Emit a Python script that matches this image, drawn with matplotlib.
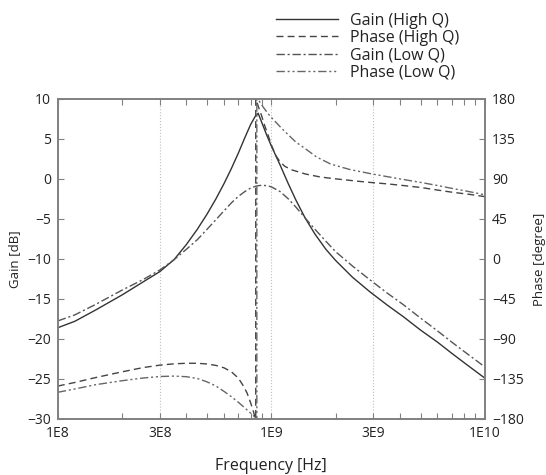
import numpy as np
import matplotlib.pyplot as plt
from matplotlib.ticker import FixedLocator, NullFormatter

plt.rcParams['font.family'] = ['Open Sans', 'DejaVu Sans']

# Gain (High Q)
f_gain_hq = [1.0e8, 1.2e8, 1.5e8, 2.0e8, 2.5e8, 3.0e8, 3.5e8, 4.0e8, 4.5e8,
             5.0e8, 5.5e8, 6.0e8, 6.5e8, 7.0e8, 7.5e8, 8.0e8, 8.4e8, 8.67e8,
             9.0e8, 9.5e8, 1.0e9, 1.1e9, 1.2e9, 1.3e9, 1.44e9, 1.6e9, 1.8e9,
             2.0e9, 2.4e9, 2.89e9, 3.5e9, 4.14e9, 5.0e9, 6.0e9, 7.0e9, 8.5e9,
             1.0e10]
gain_hq = [-18.6, -17.8, -16.4, -14.5, -12.9, -11.6, -10.1, -8.2, -6.3,
           -4.4, -2.5, -0.6, 1.3, 3.2, 5.1, 6.8, 7.8, 8.2,
           7.1, 5.5, 4.1, 1.7, -0.6, -2.6, -4.9, -6.9, -8.8,
           -10.2, -12.3, -14.1, -15.8, -17.2, -18.9, -20.4, -21.8, -23.5,
           -24.9]

# Gain (Low Q)
f_gain_lq = [1.0e8, 1.2e8, 1.5e8, 2.0e8, 2.5e8, 3.0e8, 3.5e8, 4.0e8, 4.5e8,
             5.0e8, 5.5e8, 6.0e8, 6.5e8, 7.0e8, 7.5e8, 8.0e8, 8.5e8, 9.0e8,
             9.5e8, 1.0e9, 1.1e9, 1.2e9, 1.3e9, 1.44e9, 1.6e9, 1.8e9, 2.0e9,
             2.4e9, 2.89e9, 3.5e9, 4.14e9, 5.0e9, 6.0e9, 7.0e9, 8.5e9, 1.0e10]
gain_lq = [-17.75, -17.0, -15.7, -13.9, -12.6, -11.4, -10.1, -8.8, -7.6,
           -6.3, -5.1, -4.0, -3.0, -2.2, -1.6, -1.15, -0.9, -0.8,
           -0.85, -1.0, -1.6, -2.5, -3.5, -4.9, -6.3, -7.8, -9.1,
           -10.9, -12.6, -14.3, -15.7, -17.4, -19.0, -20.4, -22.1, -23.5]

# Phase (High Q)
f_phase_hq = [1.0e8, 1.2e8, 1.5e8, 2.0e8, 2.5e8, 3.0e8, 3.5e8, 4.0e8, 4.5e8,
              5.0e8, 5.5e8, 6.0e8, 6.5e8, 7.0e8, 7.4e8, 7.7e8, 8.0e8, 8.2e8,
              8.4e8, 8.45e8, 8.45e8, 8.7e8, 9.0e8, 9.3e8, 9.66e8, 1.0e9,
              1.05e9, 1.1e9, 1.157e9, 1.25e9, 1.44e9, 1.7e9, 2.0e9, 2.5e9,
              2.89e9, 3.5e9, 4.14e9, 5.0e9, 6.0e9, 7.0e9, 8.5e9, 1.0e10]
phase_hq = [-143, -139, -133.5, -127, -122.3, -119.5, -118, -117.4, -117.4,
            -118.2, -119.8, -122.5, -127, -134, -143, -151, -162, -170,
            -178.5, -180, 180, 171, 161, 150, 139, 128,
            116, 109, 104, 100, 95.5, 92, 90, 87.5,
            86, 84.3, 82.5, 80.3, 77.4, 75, 72.5, 70]

# Phase (Low Q)
f_phase_lq = [1.0e8, 1.2e8, 1.5e8, 2.0e8, 2.5e8, 3.0e8, 3.5e8, 4.0e8, 4.5e8,
              5.0e8, 5.5e8, 6.0e8, 6.5e8, 7.0e8, 7.5e8, 8.0e8, 8.55e8, 8.55e8,
              8.8e8, 9.2e8, 9.6e8, 1.0e9, 1.1e9, 1.2e9, 1.3e9, 1.44e9, 1.63e9,
              1.9e9, 2.33e9, 2.89e9, 3.5e9, 4.14e9, 5.0e9, 6.0e9, 7.0e9,
              8.5e9, 1.0e10]
phase_lq = [-150, -146.3, -141.5, -137, -134, -132.3, -131.8, -132.5, -134.5,
            -138.3, -143, -149, -155, -161.2, -167.5, -173.5, -180, 180,
            177, 170, 164, 159, 148.5, 139.5, 131.5, 124, 114.5,
            106.5, 100.5, 96, 92.4, 89.3, 86, 82.5, 79.3,
            75.5, 72]

xticks = [1e8, 3e8, 1e9, 3e9, 1e10]
xticklabels = ['1E8', '3E8', '1E9', '3E9', '1E10']

txt = '#222222'
spine_c = '#808080'

fig = plt.figure(figsize=(5.46, 4.75), dpi=100)
ax = fig.add_axes([0.106, 0.118, 0.782, 0.674])
ax2 = ax.twinx()

l1, = ax.plot(f_gain_hq, gain_hq, color='#333333', lw=1.0, ls='-')
l3, = ax.plot(f_gain_lq, gain_lq, color='#555555', lw=1.0, ls=(0, (6, 2, 1.5, 2)))
l2, = ax2.plot(f_phase_hq, phase_hq, color='#444444', lw=1.0, ls=(0, (5, 3)))
l4, = ax2.plot(f_phase_lq, phase_lq, color='#666666', lw=1.0,
               ls=(0, (6, 2, 1.5, 2, 1.5, 2)))

ax.set_xscale('log')
ax.set_xlim(1e8, 1e10)
ax.set_ylim(-30, 10)
ax.set_xticks(xticks)
ax.set_xticklabels(xticklabels)
minors = [m * 10 ** e for e in (8, 9) for m in (2, 4, 5, 6, 7, 8, 9)]
ax.xaxis.set_minor_locator(FixedLocator(minors))
ax.xaxis.set_minor_formatter(NullFormatter())
ax.set_yticks(range(-30, 11, 5))
ax2.set_ylim(-180, 180)
ax2.set_yticks(range(-180, 181, 45))

ax.tick_params(which='both', direction='in', top=True, length=4, width=0.8,
               color=spine_c, labelsize=10, labelcolor=txt, pad=5)
ax2.tick_params(direction='in', length=4, width=0.8, color=spine_c,
                labelsize=10, labelcolor=txt, pad=5)

ax.grid(True, which='major', axis='x', linestyle=':', color='#c0c0c0', lw=0.8)

for a in (ax, ax2):
    for s in a.spines.values():
        s.set_color(spine_c)
        s.set_linewidth(1.2)

ax.set_xlabel('Frequency [Hz]', fontsize=11.5, color=txt, labelpad=12)
ax.set_ylabel('Gain [dB]', fontsize=9.5, color=txt, labelpad=4)
ax2.set_ylabel('Phase [degree]', fontsize=9.5, color=txt, labelpad=7)

fig.legend([l1, l2, l3, l4],
           ['Gain (High Q)', 'Phase (High Q)', 'Gain (Low Q)', 'Phase (Low Q)'],
           loc='upper left', bbox_to_anchor=(0.482, 1.0), frameon=False,
           fontsize=11.5, handlelength=3.9, handletextpad=0.75,
           labelspacing=0.08, borderpad=0.3, labelcolor=txt)

fig.savefig('out.png', dpi=100)
